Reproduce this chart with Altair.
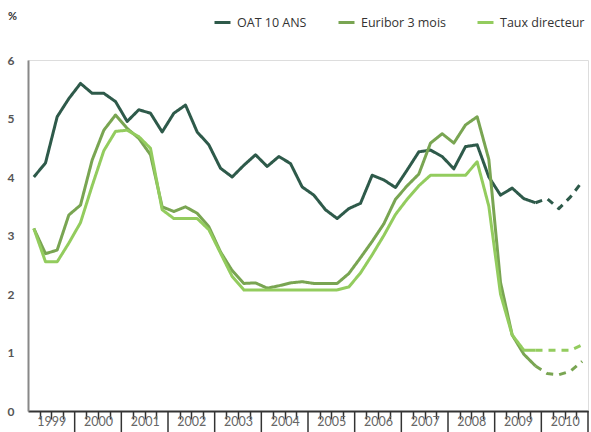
import altair as alt
import pandas as pd

# ---- data (quarterly, 1999Q1 .. 2010Q4) ----
first_year = 1999
last_year = 2010
series_names = ["OAT 10 ANS", "Euribor 3 mois", "Taux directeur"]
series_colors = ["#2e5a4a", "#79a552", "#93cc5e"]

oat = [4.00, 4.24, 5.03, 5.34,
       5.60, 5.43, 5.43, 5.29,
       4.95, 5.15, 5.09, 4.77,
       5.09, 5.23, 4.77, 4.55,
       4.15, 4.00, 4.20, 4.38,
       4.18, 4.35, 4.23, 3.83,
       3.69, 3.44, 3.29, 3.46,
       3.55, 4.03, 3.95, 3.82,
       4.12, 4.43, 4.46, 4.35,
       4.14, 4.52, 4.55, 4.00,
       3.69, 3.81, 3.63, 3.56,
       3.63, 3.46, 3.66, 3.92]

euribor = [3.12, 2.69, 2.75, 3.35,
           3.52, 4.29, 4.80, 5.06,
           4.83, 4.66, 4.38, 3.49,
           3.41, 3.49, 3.38, 3.15,
           2.72, 2.40, 2.18, 2.19,
           2.10, 2.14, 2.19, 2.21,
           2.18, 2.18, 2.18, 2.35,
           2.62, 2.90, 3.20, 3.62,
           3.85, 4.05, 4.58, 4.74,
           4.58, 4.89, 5.03, 4.30,
           2.20, 1.30, 0.97, 0.77,
           0.64, 0.62, 0.68, 0.85]

taux = [3.12, 2.55, 2.55, 2.87,
        3.22, 3.85, 4.45, 4.78,
        4.80, 4.69, 4.49, 3.44,
        3.29, 3.29, 3.29, 3.10,
        2.70, 2.30, 2.07, 2.07,
        2.07, 2.07, 2.07, 2.07,
        2.07, 2.07, 2.07, 2.12,
        2.36, 2.67, 3.00, 3.36,
        3.62, 3.85, 4.03, 4.03,
        4.03, 4.03, 4.26, 3.50,
        2.00, 1.30, 1.04, 1.04,
        1.04, 1.04, 1.04, 1.13]

forecast_from = 43  # index of 2009Q4: dashed afterwards
y_ticks = [0, 1, 2, 3, 4, 5, 6]
year_bounds = list(range(first_year + 1, last_year + 2))
quarter_ticks = [first_year + k / 4 for k in range(1, 48) if k % 4 != 0]

rows = []
for name, vals in zip(series_names, [oat, euribor, taux]):
    for i, v in enumerate(vals):
        t = first_year + i / 4 + 0.125
        if i <= forecast_from:
            rows.append(dict(serie=name, t=t, v=v, seg="reel", o=i))
        if i >= forecast_from:
            rows.append(dict(serie=name, t=t, v=v, seg="prevision", o=i))
df = pd.DataFrame(rows)

W, H = 560, 351
xscale = alt.Scale(domain=[first_year, last_year + 1], nice=False, zero=False)
yscale = alt.Scale(domain=[0, 6], nice=False)

x_axis = alt.Axis(values=quarter_ticks, title=None, grid=False,
                  tickSize=8, tickColor="#333", tickWidth=1.5,
                  domainColor="#333", domainWidth=2,
                  labelExpr="datum.value % 1 == 0.5 ? floor(datum.value) : ''",
                  labelPadding=-4, labelFontSize=12.5, labelColor="#666",
                  labelFont="Lato", labelOverlap=False, labelFlush=False)

lines = alt.Chart(df).mark_line(strokeWidth=3, strokeJoin="round").encode(
    x=alt.X("t:Q", scale=xscale, axis=x_axis),
    y=alt.Y("v:Q", scale=yscale,
            axis=alt.Axis(values=y_ticks, title="%", titleAngle=0,
                          titleX=-16, titleY=-44, titleAlign="center",
                          titleBaseline="middle", titleFontSize=11,
                          titleFont="Lato", titleColor="#333",
                          ticks=False, grid=False, domainColor="#888",
                          domainWidth=2, labelPadding=14, labelFontSize=12,
                          labelFont="Lato", labelColor="#555", labelFontWeight="bold")),
    color=alt.Color("serie:N", scale=alt.Scale(domain=series_names, range=series_colors),
                    legend=alt.Legend(title=None, orient="none", legendX=185, legendY=-47,
                                      direction="horizontal", symbolType="stroke",
                                      symbolStrokeWidth=3, symbolSize=256,
                                      labelFontSize=12.5, labelFont="Open Sans",
                                      labelColor="#333", columnPadding=25,
                                      labelOffset=5)),
    strokeDash=alt.StrokeDash("seg:N",
                              scale=alt.Scale(domain=["reel", "prevision"],
                                              range=[[1, 0], [7, 6]]),
                              legend=None),
    order="o:Q",
)

rules = alt.Chart(pd.DataFrame({"b": year_bounds})).mark_rule(
    color="#333", strokeWidth=1.5).encode(
    x=alt.X("b:Q", scale=xscale, axis=x_axis),
    y=alt.value(H),
    y2=alt.value(H + 22),
)

chart = alt.layer(lines, rules).properties(
    width=W, height=H,
    autosize=alt.AutoSizeParams(type="none"),
    padding={"left": 28, "top": 60, "right": 3, "bottom": 21},
).configure_view(stroke=None).configure(background="white")

chart.save("out.html", embed_options={"renderer": "svg", "actions": False})
